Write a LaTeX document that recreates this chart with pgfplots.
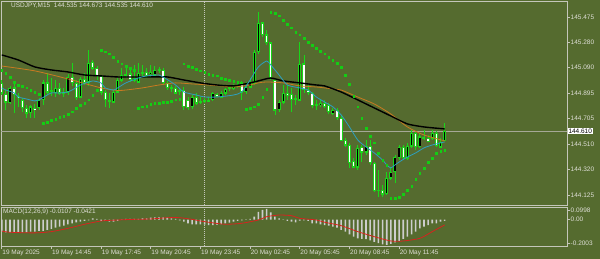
\documentclass[border=0pt]{standalone}
\usepackage{pgfplots}
\pgfplotsset{compat=1.18}
\usepackage{pgfplotstable}
\usepackage{fontspec}
\setmainfont{Liberation Sans}
\definecolor{bgcol}{RGB}{85,107,47}
\definecolor{framecol}{RGB}{196,198,186}
\definecolor{txtcol}{RGB}{222,222,214}
\definecolor{candlecol}{RGB}{25,215,25}
\definecolor{sarcol}{RGB}{20,205,20}
\definecolor{orangecol}{RGB}{200,122,32}
\definecolor{tealcol}{RGB}{45,160,190}
\definecolor{histcol}{RGB}{205,205,205}
\definecolor{sigcol}{RGB}{215,35,30}
\definecolor{plinecol}{RGB}{165,168,150}

\pgfplotstableread{
x o h l c
0 144.975 144.997 144.883 144.899
1 144.891 144.921 144.770 144.830
2 144.830 144.952 144.815 144.937
3 144.937 144.975 144.747 144.883
4 144.876 144.899 144.793 144.861
5 144.846 144.861 144.755 144.785
6 144.785 144.808 144.709 144.747
7 144.747 144.808 144.709 144.793
8 144.785 144.815 144.709 144.770
9 144.785 144.861 144.770 144.846
10 144.846 144.997 144.808 144.975
11 144.975 145.050 144.883 144.906
12 144.906 145.012 144.876 144.914
13 144.906 144.997 144.868 144.937
14 144.937 144.975 144.883 144.899
15 144.899 144.937 144.868 144.906
16 144.906 145.043 144.883 145.020
17 145.020 145.126 144.952 144.975
18 144.975 144.997 144.846 144.868
19 144.868 145.020 144.861 145.005
20 145.005 145.050 144.959 144.982
21 144.982 145.225 144.952 145.126
22 145.134 145.149 145.073 145.088
23 145.088 145.103 144.997 145.035
24 145.028 145.035 144.883 144.906
25 144.906 144.921 144.793 144.846
26 144.846 144.899 144.785 144.838
27 144.830 144.921 144.823 144.906
28 144.906 145.012 144.899 144.997
29 144.997 145.088 144.982 145.035
30 145.035 145.096 145.012 145.043
31 145.043 145.096 144.982 144.997
32 144.997 145.111 144.982 145.012
33 144.982 145.126 144.975 145.050
34 145.050 145.111 145.020 145.058
35 145.058 145.088 145.012 145.035
36 145.043 145.111 145.020 145.058
37 145.035 145.103 145.028 145.073
38 145.073 145.096 145.050 145.081
39 145.073 145.088 144.959 144.975
40 144.975 144.990 144.921 144.937
41 144.937 144.959 144.906 144.929
42 144.937 144.952 144.891 144.899
43 144.906 144.937 144.883 144.914
44 144.921 144.944 144.770 144.793
45 144.846 144.868 144.770 144.785
46 144.793 144.883 144.777 144.868
47 144.868 144.899 144.808 144.823
48 144.830 144.868 144.815 144.838
49 144.838 144.861 144.823 144.846
50 144.846 144.868 144.830 144.838
51 144.846 144.906 144.838 144.899
52 144.891 144.899 144.868 144.876
53 144.868 144.914 144.861 144.899
54 144.899 144.937 144.883 144.929
55 144.929 144.959 144.914 144.937
56 144.937 144.967 144.921 144.952
57 144.952 144.982 144.937 144.959
58 144.975 144.990 144.846 144.906
59 144.906 144.982 144.891 144.944
60 144.944 145.012 144.937 144.982
61 144.975 145.225 144.959 145.210
62 145.210 145.513 145.195 145.430
63 145.430 145.437 145.323 145.339
64 145.339 145.376 145.263 145.278
65 145.278 145.285 144.997 145.012
66 144.997 145.012 144.732 144.770
67 144.770 144.846 144.755 144.830
68 144.830 144.959 144.815 144.899
69 144.899 144.959 144.846 144.883
70 144.891 144.937 144.755 144.846
71 144.861 144.883 144.808 144.853
72 144.846 145.285 144.838 145.119
73 145.119 145.187 144.899 144.921
74 144.921 144.959 144.883 144.899
75 144.899 144.906 144.785 144.800
76 144.815 144.846 144.770 144.808
77 144.808 144.846 144.793 144.823
78 144.823 144.846 144.785 144.800
79 144.808 144.823 144.739 144.755
80 144.747 144.785 144.732 144.770
81 144.770 144.785 144.694 144.709
82 144.709 144.732 144.535 144.542
83 144.542 144.557 144.489 144.504
84 144.504 144.520 144.330 144.375
85 144.383 144.406 144.330 144.337
86 144.337 144.504 144.315 144.482
87 144.489 144.504 144.375 144.451
88 144.451 144.542 144.428 144.497
89 144.497 144.542 144.353 144.368
90 144.368 144.375 144.148 144.163
91 144.163 144.315 144.110 144.155
92 144.163 144.201 144.110 144.133
93 144.133 144.300 144.125 144.254
94 144.254 144.337 144.239 144.300
95 144.300 144.428 144.216 144.413
96 144.406 144.504 144.390 144.489
97 144.489 144.504 144.390 144.406
98 144.406 144.520 144.390 144.497
99 144.497 144.618 144.482 144.595
100 144.595 144.603 144.466 144.489
101 144.489 144.595 144.482 144.565
102 144.557 144.618 144.542 144.565
103 144.557 144.580 144.527 144.535
104 144.550 144.618 144.542 144.595
105 144.595 144.611 144.489 144.504
106 144.489 144.557 144.482 144.527
107 144.535 144.673 144.535 144.610
}\candles

\pgfplotstableread{
x y
0 145.187
4 145.149
8 145.096
12 145.073
16 145.058
20 145.035
24 145.028
28 145.020
32 145.020
36 145.020
40 145.020
44 144.997
48 144.975
52 144.959
56 144.952
60 144.975
62 144.990
65 145.012
68 144.990
72 144.975
76 144.959
78 144.952
82 144.906
86 144.846
90 144.785
94 144.724
98 144.664
102 144.641
107 144.626
}\maslow

\pgfplotstableread{
x y
0 145.103
8 145.066
16 145.005
24 144.937
28 144.918
30 144.921
34 144.937
38 144.959
42 144.975
46 144.967
50 144.959
53 144.952
56 144.944
60 144.959
62 144.975
64 144.982
68 144.975
72 144.952
76 144.944
80 144.929
82 144.921
86 144.868
90 144.815
94 144.739
98 144.641
102 144.580
107 144.535
}\mamid

\pgfplotstableread{
x y
0 144.937
1 144.921
3 144.899
4 144.868
6 144.853
8 144.838
9 144.846
11 144.883
12 144.899
14 144.899
16 144.906
17 144.921
19 144.959
21 144.982
22 144.990
24 144.975
25 144.937
27 144.921
28 144.937
30 144.975
33 145.012
35 145.028
38 145.035
39 145.020
42 144.959
44 144.906
47 144.883
49 144.868
52 144.868
56 144.883
58 144.906
60 144.997
62 145.096
64 145.141
65 145.111
67 145.035
69 144.959
72 144.937
74 144.921
76 144.868
78 144.830
80 144.793
82 144.732
84 144.641
86 144.542
88 144.489
90 144.444
92 144.390
93 144.353
94 144.330
95 144.353
96 144.375
98 144.413
100 144.444
102 144.482
104 144.504
106 144.520
107 144.527
}\mafast

\pgfplotstableread{
x y
0 145.073
1 145.050
2 145.020
3 144.982
4 144.959
5 144.952
6 144.937
7 144.921
8 144.906
9 144.891
10 144.671
11 144.679
12 144.694
13 144.701
14 144.717
15 144.724
16 144.739
17 144.755
18 144.785
19 144.808
20 144.823
21 144.846
22 144.883
23 144.921
24 145.225
25 145.210
26 145.195
27 145.172
28 145.141
29 145.119
30 145.103
31 145.088
32 145.073
33 144.785
34 144.793
35 144.800
36 144.815
37 144.823
38 144.823
39 144.830
40 144.830
41 144.838
42 144.846
43 144.853
44 145.119
45 145.103
46 145.096
47 145.081
48 145.066
49 145.058
50 145.043
51 145.035
52 145.028
53 145.012
54 145.005
55 144.997
56 144.990
57 144.982
58 144.975
59 144.777
60 144.785
61 144.793
62 144.815
63 144.868
64 144.929
65 145.513
66 145.505
67 145.483
68 145.452
69 145.422
70 145.392
71 145.361
72 145.339
73 145.316
74 145.285
75 145.263
76 145.240
77 145.217
78 145.195
79 145.172
80 145.149
81 145.126
82 145.096
83 145.035
84 144.967
85 144.876
86 144.793
87 144.709
88 144.633
89 144.572
90 144.520
91 144.444
92 144.390
93 144.353
94 144.102
95 144.102
96 144.110
97 144.133
98 144.163
99 144.193
100 144.246
101 144.292
102 144.330
103 144.375
104 144.406
105 144.444
106 144.459
107 144.466
}\sardata

\pgfplotstableread{
x v
0 -0.095
1 -0.100
2 -0.100
3 -0.100
4 -0.100
5 -0.100
6 -0.100
7 -0.095
8 -0.095
9 -0.090
10 -0.090
11 -0.082
12 -0.074
13 -0.064
14 -0.056
15 -0.048
16 -0.037
17 -0.029
18 -0.021
19 -0.016
20 -0.011
21 -0.006
22 0.010
23 0.005
24 -0.011
25 -0.011
26 -0.016
27 -0.016
28 -0.011
29 -0.003
30 0.005
31 0.005
32 0.005
33 0.005
34 0.010
35 0.010
36 0.015
37 0.018
38 0.018
39 0.018
40 0.015
41 0.010
42 0.005
43 -0.006
44 -0.016
45 -0.029
46 -0.037
47 -0.037
48 -0.037
49 -0.040
50 -0.043
51 -0.043
52 -0.040
53 -0.035
54 -0.029
55 -0.024
56 -0.016
57 -0.011
58 -0.006
59 0.002
60 0.005
61 0.023
62 0.062
63 0.076
64 0.084
65 0.058
66 0.023
67 0.010
68 -0.003
69 -0.011
70 -0.016
71 -0.021
72 -0.008
73 -0.006
74 -0.011
75 -0.029
76 -0.029
77 -0.037
78 -0.043
79 -0.048
80 -0.056
81 -0.064
82 -0.082
83 -0.095
84 -0.116
85 -0.135
86 -0.148
87 -0.152
88 -0.155
89 -0.165
90 -0.175
91 -0.185
92 -0.195
93 -0.200
94 -0.192
95 -0.180
96 -0.168
97 -0.152
98 -0.135
99 -0.116
100 -0.095
101 -0.069
102 -0.056
103 -0.043
104 -0.029
105 -0.029
106 -0.016
107 -0.0107
}\macdmain

\pgfplotstableread{
x v
0 -0.090
2 -0.100
8 -0.105
12 -0.095
16 -0.069
20 -0.037
24 -0.011
28 -0.003
32 0.002
36 0.005
40 0.015
43 0.015
46 0.002
48 -0.011
50 -0.021
54 -0.037
58 -0.029
62 -0.003
64 0.023
67 0.036
70 0.031
72 0.010
76 -0.003
78 -0.021
82 -0.048
86 -0.095
90 -0.135
94 -0.169
97 -0.169
101 -0.148
104 -0.095
107 -0.0421
}\macdsig

\begin{document}
\fontsize{6.5}{7.5}\selectfont
\begin{tikzpicture}
\useasboundingbox (0,0) rectangle (600bp,259bp);
\fill[bgcol] (0,0) rectangle (600bp,259bp);

\begin{axis}[
  at={(1bp,54bp)}, anchor=south west, scale only axis,
  width=566bp, height=204bp,
  xmin=-0.17, xmax=136.55, ymin=144.049, ymax=145.596,
  axis line style={draw=framecol, line width=0.9bp},
  xtick=\empty,
  ytick={144.125,144.320,144.510,144.705,144.895,145.090,145.280,145.475},
  yticklabels={144.125,144.320,144.510,144.705,144.895,145.090,145.280,145.475},
  ytick pos=right, yticklabel pos=right,
  tick align=outside, major tick length=2.5bp,
  tick style={draw=framecol, line width=0.6bp},
  yticklabel style={anchor=west, inner sep=0pt, text=txtcol, font=\fontsize{6.5}{7.5}\selectfont, xshift=1bp},
  clip=true,
]
% current price line
\addplot[color=plinecol, line width=0.6bp, mark=none] coordinates {(-0.17,144.610) (136.55,144.610)};
% day separator
\addplot[color=framecol, line width=0.6bp, dash pattern=on 1bp off 1bp, mark=none] coordinates {(49,144.049) (49,145.596)};
% wicks
\addplot[draw=none, mark=none, error bars/.cd, y dir=both, y explicit, error mark=none,
  error bar style={draw=candlecol, solid, line width=0.8bp}]
  table[x=x, y expr={(\thisrow{h}+\thisrow{l})/2}, y error expr={(\thisrow{h}-\thisrow{l})/2}] {\candles};
% body outlines
\addplot[draw=none, mark=none, error bars/.cd, y dir=both, y explicit, error mark=none,
  error bar style={draw=candlecol, solid, line width=3.0bp}]
  table[x=x, y expr={(\thisrow{o}+\thisrow{c})/2}, y error expr={abs(\thisrow{o}-\thisrow{c})/2+0.0035}] {\candles};
% bull bodies (black)
\addplot[draw=none, mark=none, error bars/.cd, y dir=both, y explicit, error mark=none,
  error bar style={draw=black, solid, line width=1.4bp}]
  table[x=x, y expr={(\thisrow{c}>\thisrow{o}) ? (\thisrow{o}+\thisrow{c})/2 : nan}, y error expr={max(abs(\thisrow{o}-\thisrow{c})/2-0.005,0)}] {\candles};
% bear bodies (white)
\addplot[draw=none, mark=none, error bars/.cd, y dir=both, y explicit, error mark=none,
  error bar style={draw=white, solid, line width=1.4bp}]
  table[x=x, y expr={(\thisrow{c}<\thisrow{o}) ? (\thisrow{o}+\thisrow{c})/2 : nan}, y error expr={max(abs(\thisrow{o}-\thisrow{c})/2-0.005,0)}] {\candles};
% moving averages
\addplot[color=orangecol, line width=0.8bp, mark=none, smooth, tension=0.4] table[x=x,y=y] {\mamid};
\addplot[color=black, line width=1.4bp, mark=none, smooth, tension=0.4] table[x=x,y=y] {\maslow};
\addplot[color=tealcol, line width=0.8bp, mark=none, smooth, tension=0.4] table[x=x,y=y] {\mafast};
% parabolic SAR
\addplot[color=sarcol, only marks, mark=square*, mark size=0.8bp, mark options={draw=none, fill=sarcol}] table[x=x,y=y] {\sardata};
\end{axis}

\begin{axis}[
  at={(1bp,13bp)}, anchor=south west, scale only axis,
  width=566bp, height=39bp,
  xmin=-0.17, xmax=136.55, ymin=-0.2085, ymax=0.0995,
  axis line style={draw=framecol, line width=0.9bp},
  xtick={0,12,24,36,48,60,72,84,96},
  xticklabels={19 May 2025,19 May 14:45,19 May 17:45,19 May 20:45,19 May 23:45,20 May 02:45,20 May 05:45,20 May 08:45,20 May 11:45},
  xtick pos=bottom,
  ytick={-0.185,0,0.0758},
  yticklabels={-0.2003,0.00,0.0998},
  ytick pos=right, yticklabel pos=right,
  tick align=outside, major tick length=2.5bp,
  tick style={draw=framecol, line width=0.6bp},
  yticklabel style={anchor=west, inner sep=0pt, text=txtcol, font=\fontsize{6.5}{7.5}\selectfont, xshift=1bp},
  xticklabel style={anchor=north west, inner sep=0pt, text=txtcol, font=\fontsize{6.5}{7.5}\selectfont, xshift=0.5bp, yshift=-1bp},
  clip=true,
]
\addplot[color=framecol, line width=0.6bp, dash pattern=on 1bp off 1bp, mark=none] coordinates {(49,-0.2085) (49,0.0995)};
\addplot[ybar, bar width=1.6bp, fill=histcol, draw=none, mark=none] table[x=x,y=v] {\macdmain};
\addplot[color=sigcol, line width=0.8bp, mark=none, smooth, tension=0.4] table[x=x,y=v] {\macdsig};
\end{axis}

\node[anchor=west, inner sep=0pt, text=txtcol] at (3bp,47bp) {MACD(12,26,9) -0.0107 -0.0421};
\node[anchor=west, inner sep=0pt, text=txtcol] at (11bp,253bp) {USDJPY,M15\ \ 144.535 144.673 144.535 144.610};
\node[anchor=west, fill=white, text=black, inner xsep=0.8bp, inner ysep=0.6bp] at (567.5bp,127.7bp) {144.610};
\end{tikzpicture}
\end{document}
